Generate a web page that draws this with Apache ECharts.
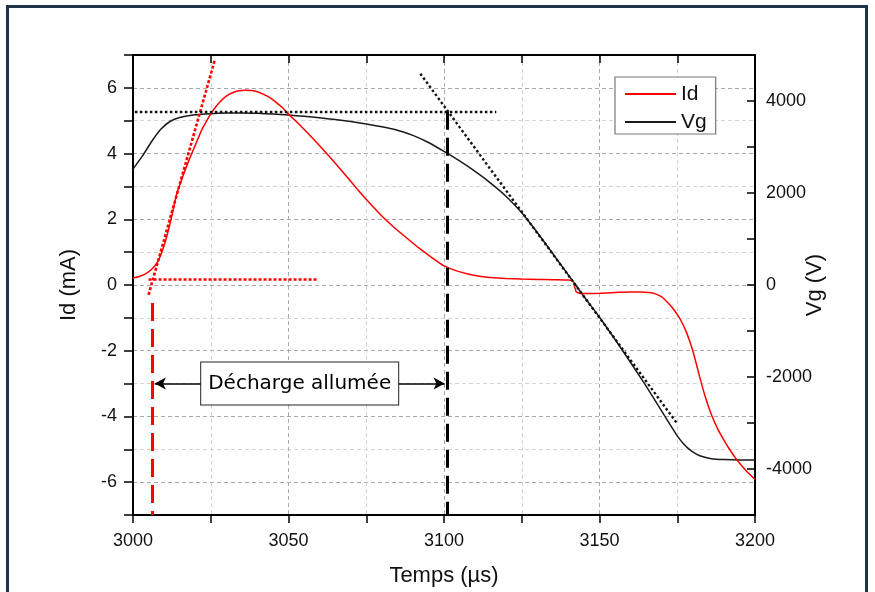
<!DOCTYPE html>
<html>
<head>
<meta charset="utf-8">
<script src="https://cdn.jsdelivr.net/npm/echarts@6/dist/echarts.min.js"></script>
<style>
html,body{margin:0;padding:0;background:#fff;}
#chart{width:875px;height:592px;}
</style>
</head>
<body>
<div id="chart"></div>
<script>
// ---- Data ----
const idTimes = [3000,3002,3004,3006,3008,3010,3012,3014,3016,3018,3020,3022,3024,3026,3028,3030,3032,3034,3036,3038,3040,3042,3044,3046,3048,3050,3053,3056,3060,3064,3068,3072,3076,3080,3084,3088,3092,3096,3100,3104,3108,3112,3116,3120,3125,3130,3135,3140,3141.5,3142,3142.5,3143.5,3146,3150,3155,3160,3163,3166,3168,3170,3172,3174,3176,3178,3180,3182,3184,3186,3188,3190,3192,3194,3196,3198,3200];
const idValues = [0.21,0.26,0.34,0.48,0.72,1.2,1.9,2.75,3.3,3.8,4.25,4.7,5.05,5.35,5.58,5.75,5.85,5.91,5.93,5.92,5.88,5.8,5.7,5.56,5.4,5.2,4.93,4.64,4.24,3.82,3.38,2.93,2.5,2.1,1.75,1.43,1.12,0.84,0.58,0.43,0.33,0.26,0.22,0.2,0.18,0.17,0.16,0.15,0.12,-0.05,-0.2,-0.25,-0.26,-0.25,-0.23,-0.21,-0.21,-0.23,-0.27,-0.36,-0.54,-0.76,-1.05,-1.45,-2.0,-2.72,-3.4,-3.95,-4.38,-4.72,-5.03,-5.3,-5.53,-5.74,-5.92];

const vgTimes = [3000,3003,3006,3009,3012,3015,3020,3025,3030,3035,3040,3045,3050,3055,3060,3065,3070,3075,3080,3085,3090,3095,3100,3105,3110,3115,3120,3125,3130,3135,3140,3145,3150,3155,3160,3165,3170,3173,3175,3177,3179,3181,3183,3186,3190,3195,3200];
const vgValues = [2520,2800,3120,3390,3560,3640,3700,3725,3738,3740,3732,3716,3694,3667,3634,3596,3552,3500,3438,3363,3253,3098,2904,2697,2470,2215,1925,1570,1140,680,215,-250,-700,-1185,-1685,-2200,-2740,-3070,-3280,-3450,-3580,-3670,-3730,-3775,-3795,-3805,-3805];

const xTickLabels = [3000,3050,3100,3150,3200];
const idTickLabels = [-6,-4,-2,0,2,4,6];
const vgTickLabels = [-4000,-2000,0,2000,4000];

// annotation guides (data coordinates)
const idTangent = [[3005,-0.3],[3026.3,6.85]];
const idBaseline = [[3005,0.16],[3059.4,0.16]];
const onsetTime = 3006.1;
const onsetTop = -0.55;
const plateauLevel = 5.27;
const plateauLine = [[3000.6,5.27],[3116.8,5.27]];
const offTime = 3101.1;
const vgTangent = [[3092.4,4593],[3175,-3015]];
const arrowSpan = [[3007,-3],[3100.2,-3]];
const labelPoint = [3053.6,-3];
const labelText = 'Décharge allumée';

const idData = idTimes.map((t,i)=>[t,idValues[i]]);
const vgData = vgTimes.map((t,i)=>[t,vgValues[i]]);

const FONT = "'Liberation Sans', Arial, sans-serif";
const dotRed = {color:'#ff0000', type:[3,2], width:2.6, cap:'butt'};
const dotBlack = {color:'#111', type:[2.5,2.5], width:2.4, cap:'butt'};

const chart = echarts.init(document.getElementById('chart'), null, {renderer:'canvas'});
const option = {
  animation:false,
  backgroundColor:'#fff',
  grid:{left:133, right:120, top:55, bottom:77, containLabel:false},
  graphic:[{type:'rect', shape:{x:7.5,y:6.5,width:859,height:620}, style:{fill:'none', stroke:'#1e3347', lineWidth:3}, silent:true, z:100}],
  legend:{
    data:['Id','Vg'], orient:'vertical', left:615, top:77, icon:'rect',
    backgroundColor:'#fff', borderColor:'#777', borderWidth:1.2,
    padding:[6,9,1,10], itemWidth:51, itemHeight:2, itemGap:6,
    textStyle:{fontFamily:FONT, fontSize:21, color:'#111', lineHeight:22}
  },
  xAxis:[
    {type:'value', position:'bottom', min:3000, max:3200, interval:25,
     name:'Temps (µs)', nameLocation:'middle', nameGap:50, nameMoveOverlap:false,
     nameTextStyle:{fontFamily:FONT, fontSize:22, color:'#111'},
     axisLine:{onZero:false, lineStyle:{color:'#000', width:2}},
     axisTick:{inside:false, length:8, lineStyle:{color:'#000', width:1.5}},
     axisLabel:{margin:17, fontFamily:FONT, fontSize:18, color:'#111',
       formatter:v=>xTickLabels.indexOf(v)>=0?String(v):''},
     splitLine:{show:true, showMinLine:true, showMaxLine:true, lineStyle:{color:['#aaaaaa','#d4d4d4'], type:[4,3], width:1}}
    },
    {type:'value', position:'top', min:3000, max:3200, interval:25,
     axisLine:{onZero:false, lineStyle:{color:'#000', width:2}},
     axisTick:{inside:true, length:8, lineStyle:{color:'#000', width:1.5}},
     axisLabel:{show:false}, splitLine:{show:false}}
  ],
  yAxis:[
    {type:'value', position:'left', min:-7, max:7, interval:1,
     name:'Id (mA)', nameLocation:'middle', nameGap:53, nameMoveOverlap:false,
     nameTextStyle:{fontFamily:FONT, fontSize:22, color:'#111'},
     axisLine:{onZero:false, lineStyle:{color:'#000', width:2}},
     axisTick:{inside:false, length:9, lineStyle:{color:'#000', width:1.5}},
     axisLabel:{margin:16, fontFamily:FONT, fontSize:18, color:'#111',
       formatter:v=>idTickLabels.indexOf(v)>=0?String(v):''},
     splitLine:{show:true, showMinLine:true, showMaxLine:true, lineStyle:{color:['#d4d4d4','#aaaaaa'], type:[4,3], width:1}}
    },
    {type:'value', position:'right', min:-5000, max:5000, interval:1000,
     name:'Vg (V)', nameLocation:'middle', nameGap:49, nameMoveOverlap:false,
     nameTextStyle:{fontFamily:FONT, fontSize:22, color:'#111'},
     axisLine:{onZero:false, lineStyle:{color:'#000', width:2}},
     axisTick:{inside:true, length:8, lineStyle:{color:'#000', width:1.5}},
     axisLabel:{margin:11, fontFamily:FONT, fontSize:18, color:'#111',
       formatter:v=>vgTickLabels.indexOf(v)>=0?String(v):''},
     splitLine:{show:false}
    }
  ],
  series:[
    {name:'Id', type:'line', xAxisIndex:0, yAxisIndex:0, data:idData, symbol:'none', smooth:0.2,
     lineStyle:{color:'#ff0000', width:1.5}, itemStyle:{color:'#ff0000'}, z:3,
     markLine:{silent:true, symbol:['none','none'], label:{show:false}, animation:false,
       data:[
         [{coord:idTangent[0], lineStyle:dotRed},{coord:idTangent[1]}],
         [{coord:idBaseline[0], lineStyle:dotRed},{coord:idBaseline[1]}],
         [{coord:[onsetTime,onsetTop], lineStyle:{color:'#ff0000', type:[18,8], width:3, cap:'butt'}},{coord:[onsetTime,-7]}],
         [{coord:plateauLine[0], lineStyle:dotBlack},{coord:plateauLine[1]}],
         [{coord:[offTime,plateauLevel], lineStyle:{color:'#000', type:[18,8], width:3, cap:'butt'}},{coord:[offTime,-7]}],
         [{coord:arrowSpan[0], symbol:'arrow', symbolSize:[9,11], lineStyle:{color:'#000', type:'solid', width:1.5}},{coord:arrowSpan[1], symbol:'arrow', symbolSize:[9,11]}]
       ]}
    },
    {name:'Vg', type:'line', xAxisIndex:0, yAxisIndex:1, data:vgData, symbol:'none', smooth:0.2,
     lineStyle:{color:'#1a1a1a', width:1.5}, itemStyle:{color:'#1a1a1a'}, z:2,
     markLine:{silent:true, symbol:['none','none'], label:{show:false}, animation:false,
       data:[
         [{coord:vgTangent[0], lineStyle:dotBlack},{coord:vgTangent[1]}]
       ]}
    },
    {name:'label', type:'scatter', xAxisIndex:0, yAxisIndex:0, data:[labelPoint], symbolSize:1,
     itemStyle:{color:'rgba(0,0,0,0)', opacity:1}, z:20, silent:true,
     label:{show:true, position:'inside', formatter:labelText,
       fontFamily:"'DejaVu Sans', sans-serif", fontSize:20, color:'#000',
       backgroundColor:'#fff', borderColor:'#222', borderWidth:1, padding:[9,7,9,7], lineHeight:24}
    }
  ]
};
chart.setOption(option);
</script>
</body>
</html>
